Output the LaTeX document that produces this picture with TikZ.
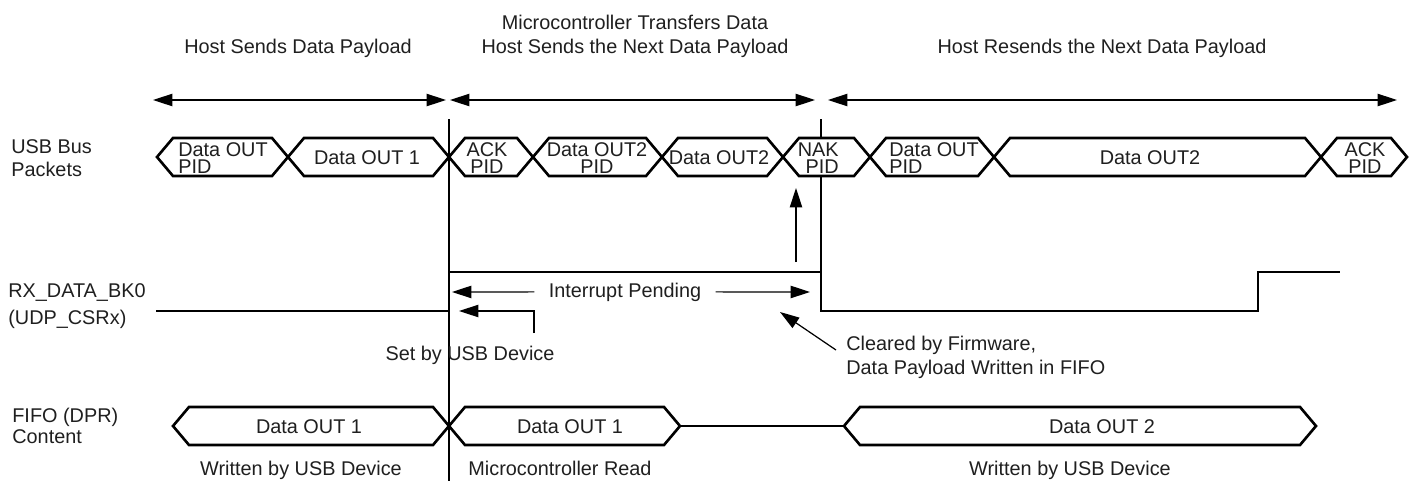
\documentclass[tikz,border=0pt]{standalone}
\usepackage{fontspec}
\setmainfont{Liberation Sans}
\usetikzlibrary{arrows.meta, positioning}

% one packet of a bus: left x, right x, middle y
\newcommand{\pkthex}[3]{%
  \draw[wave] (#1,#3) -- (#1+16,#3-19) -- (#2-16,#3-19) -- (#2,#3)
    -- (#2-16,#3+19) -- (#1+16,#3+19) -- cycle;}

\begin{document}
\begin{tikzpicture}[
    x=0.02cm, y=-0.02cm,
    font=\fontsize{11.3}{13.6}\selectfont,
    txt/.style={inner sep=0pt, text=black!88},
    lbl/.style={txt, align=left, anchor=west},
    pid/.style={txt, font=\fontsize{11.3}{9.4}\selectfont},
    wave/.style={draw=black, fill=white, line width=1.5pt},
    sig/.style={draw=black, line width=1.4pt},
    guide/.style={draw=black, line width=0.6pt},
    arr/.style={-{Triangle[length=11pt,width=7pt]}, line width=0.7pt},
    dbl/.style={{Triangle[length=11pt,width=7pt]}-{Triangle[length=11pt,width=7pt]}, line width=0.7pt}
]
    \useasboundingbox (0,0) rectangle (1414,481);

    % phases
    \node[txt, anchor=base] (hs) at (298,53) {Host Sends Data Payload};
    \node[txt, align=center] (mt) at (635,36) {Microcontroller Transfers Data\\Host Sends the Next Data Payload};
    \node[txt, anchor=base] (hr) at (1102,53) {Host Resends the Next Data Payload};

    \coordinate (s1a) at (153,100);
    \coordinate (s1b) at (446,100);
    \coordinate (s2a) at (450,100);
    \coordinate (s2b) at (815,100);
    \coordinate (s3a) at (828,100);
    \coordinate (s3b) at (1397,100);
    \draw[dbl] (s1a) -- (s1b);
    \draw[dbl] (s2a) -- (s2b);
    \draw[dbl] (s3a) -- (s3b);

    % row names
    \node[lbl] (bus) at (11,158) {USB Bus\\[-0.6pt]Packets};
    \node[lbl] (rx) at (8,306) {RX\_DATA\_BK0\\[1.7pt](UDP\_CSRx)};
    \node[lbl] (fifo) at (12,426) {FIFO (DPR)\\[-1.7pt]Content};

    % time marks
    \draw[guide] (449,119) -- (449,481);
    \draw[guide] (821,119) -- (821,311);

    % USB bus packets
    \pkthex{157}{288}{157}
    \pkthex{288}{449}{157}
    \pkthex{449}{533}{157}
    \pkthex{533}{662}{157}
    \pkthex{662}{783}{157}
    \pkthex{783}{870}{157}
    \pkthex{870}{994}{157}
    \pkthex{994}{1321}{157}
    \pkthex{1321}{1407}{157}

    \node[pid, align=left, anchor=west] (p1) at (178,158) {Data OUT\\PID};
    \node[txt] (p2) at (367,158) {Data OUT 1};
    \node[pid, align=center] (p3) at (487,158) {ACK\\PID};
    \node[pid, align=center] (p4) at (597,158) {Data OUT2\\PID};
    \node[txt] (p5) at (719,158) {Data OUT2};
    \node[pid, align=right, anchor=east] (p6) at (839,158) {NAK\\PID};
    \node[pid, align=left, anchor=west] (p7) at (889,158) {Data OUT\\PID};
    \node[txt] (p8) at (1150,158) {Data OUT2};
    \node[pid, align=center] (p9) at (1365,158) {ACK\\PID};

    % RX_DATA_BK0
    \draw[sig] (156,311) -- (449,311) -- (449,272) -- (821,272) -- (821,311)
        -- (1258,311) -- (1258,272) -- (1340,272);

    \node[txt, anchor=base, inner xsep=8pt] (ip) at (625,297) {Interrupt Pending};
    \coordinate (ipL) at (452,292);
    \coordinate (ipR) at (810,292);
    \draw[arr] (ip.west) -- (ipL);
    \draw[arr] (ip.east) -- (ipR);

    \node[txt, anchor=base] (sb) at (470,360) {Set by USB Device};
    \coordinate (sbTail) at (534,333);
    \coordinate (sbTip) at (459,311);
    \draw[arr] (sbTail) |- (sbTip);

    \coordinate (upTail) at (796,262);
    \coordinate (upTip) at (796,188);
    \draw[arr] (upTail) -- (upTip);

    \node[lbl] (cl) at (846,357) {Cleared by Firmware,\\Data Payload Written in FIFO};
    \coordinate (clTail) at (836,350);
    \coordinate (clTip) at (780,312);
    \draw[arr] (clTail) -- (clTip);

    % FIFO content
    \pkthex{173}{449}{426}
    \pkthex{449}{680}{426}
    \pkthex{844}{1316}{426}
    \coordinate (f2end) at (680,426);
    \coordinate (f3start) at (844,426);
    \draw[sig] (f2end) -- (f3start);

    \node[txt] (f1) at (309,427) {Data OUT 1};
    \node[txt] (f2) at (570,427) {Data OUT 1};
    \node[txt] (f3) at (1102,427) {Data OUT 2};

    \node[txt, anchor=base] (w1) at (301,475) {Written by USB Device};
    \node[txt, anchor=base] (w2) at (560,475) {Microcontroller Read};
    \node[txt, anchor=base] (w3) at (1070,475) {Written by USB Device};
\end{tikzpicture}
\end{document}
